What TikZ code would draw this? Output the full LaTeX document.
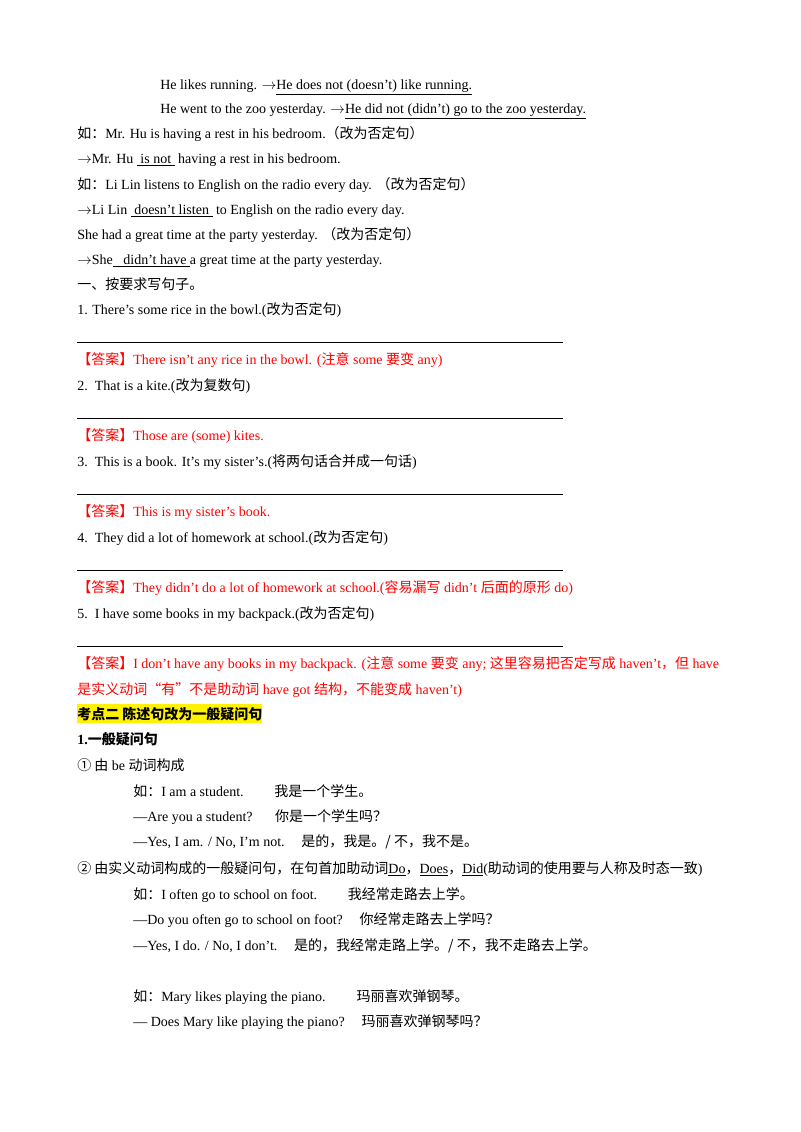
\documentclass[tikz,border=0pt]{standalone}
\usepackage{fontspec}
\setmainfont{Liberation Serif}
\newfontfamily\cjk{Noto Sans CJK SC}
\newcommand{\zh}[1]{{\cjk #1}}
\usetikzlibrary{positioning}

\tikzset{
  txt/.style={anchor=base west, inner sep=0pt, font=\fontsize{10.5}{12}\selectfont},
  ans/.style={txt, text=red},
  hl/.style={txt, font=\fontsize{10.5}{12}\selectfont\bfseries, fill=yellow, inner ysep=2pt, inner xsep=0pt},
  blank/.style={line width=0.5pt}
}

\begin{document}
\begin{tikzpicture}[x=0.75pt,y=-0.75pt]
  \useasboundingbox (0,0) rectangle (800,1132);

  % examples of negative sentences
  \node[txt] (e1) at (160,89) {He likes running. $\rightarrow$\underline{He does not (doesn't) like running.}};
  \node[txt] (e2) at (160,113) {He went to the zoo yesterday. $\rightarrow$\underline{He did not (didn't) go to the zoo yesterday.}};
  \node[txt] (e3) at (77,138) {\zh{如：}Mr. Hu is having a rest in his bedroom.\zh{（改为否定句）}};
  \node[txt] (e4) at (77,163) {$\rightarrow$Mr. Hu \underline{\ is not\ } having a rest in his bedroom.};
  \node[txt] (e5) at (77,189) {\zh{如：}Li Lin listens to English on the radio every day. \zh{（改为否定句）}};
  \node[txt] (e6) at (77,214) {$\rightarrow$Li Lin \underline{\ doesn't listen\ } to English on the radio every day.};
  \node[txt] (e7) at (77,239) {She had a great time at the party yesterday. \zh{（改为否定句）}};
  \node[txt] (e8) at (77,264) {$\rightarrow$She\underline{\ \ \ didn't have\ }a great time at the party yesterday.};

  % exercises
  \node[txt] (t1) at (77,289) {\zh{一、按要求写句子。}};
  \foreach \y/\q/\a [count=\n] in {
    314/{1. There's some rice in the bowl.(\zh{改为否定句})}/{There isn't any rice in the bowl. (\zh{注意} some \zh{要变} any)},
    390/{2.\ \ That is a kite.(\zh{改为复数句})}/{Those are (some) kites.},
    466/{3.\ \ This is a book. It's my sister's.(\zh{将两句话合并成一句话})}/{This is my sister’s book.},
    542/{4.\ \ They did a lot of homework at school.(\zh{改为否定句})}/{They didn’t do a lot of homework at school.(\zh{容易漏写} didn't \zh{后面的原形} do)},
    618/{5.\ \ I have some books in my backpack.(\zh{改为否定句})}/{I don't have any books in my backpack. (\zh{注意} some \zh{要变} any;\ \zh{这里容易把否定写成} haven't\zh{，但} have}
  } {
    \node[txt] (q\n) at (77,\y) {\q};
    \coordinate (b\n) at (77,\y+28);
    \draw[blank] (b\n) -- ++(486,0);
    \node[ans] (a\n) at (77,\y+50) {\zh{【答案】}\a};
  }
  \node[ans] (a6) at (77,694) {\zh{是实义动词“有”不是助动词} have got \zh{结构，不能变成} haven't)};

  % questions
  \node[hl] (k2) at (77,719) {\zh{\bfseries 考点二\ 陈述句改为一般疑问句}};
  \node[txt, font=\fontsize{10.5}{12}\selectfont\bfseries] (s1) at (77,744) {1.\zh{一般疑问句}};
  \node[txt] (c1) at (77,770) {\zh{①\ 由} be \zh{动词构成}};
  \node[txt] (c2) at (133,796) {\zh{如：}I am a student.\hspace{2.2em}\zh{我是一个学生。}};
  \node[txt] (c3) at (133,821) {—Are you a student?\hspace{1.6em}\zh{你是一个学生吗？}};
  \node[txt] (c4) at (133,846) {—Yes, I am. / No, I'm not.\hspace{1.2em}\zh{是的，我是。/ 不，我不是。}};
  \node[txt] (c5) at (77,873) {\zh{②\ 由实义动词构成的一般疑问句，在句首加助动词}\underline{Do}\zh{，}\underline{Does}\zh{，}\underline{Did}(\zh{助动词的使用要与人称及时态一致})};
  \node[txt] (c6) at (133,899) {\zh{如：}I often go to school on foot.\hspace{2.2em}\zh{我经常走路去上学。}};
  \node[txt] (c7) at (133,924) {—Do you often go to school on foot?\hspace{1.2em}\zh{你经常走路去上学吗？}};
  \node[txt] (c8) at (133,950) {—Yes, I do. / No, I don't.\hspace{1.2em}\zh{是的，我经常走路上学。/ 不，我不走路去上学。}};
  \node[txt] (c9) at (133,1001) {\zh{如：}Mary likes playing the piano.\hspace{2.2em}\zh{玛丽喜欢弹钢琴。}};
  \node[txt] (c10) at (133,1026) {— Does Mary like playing the piano?\hspace{1.2em}\zh{玛丽喜欢弹钢琴吗？}};
\end{tikzpicture}
\end{document}
